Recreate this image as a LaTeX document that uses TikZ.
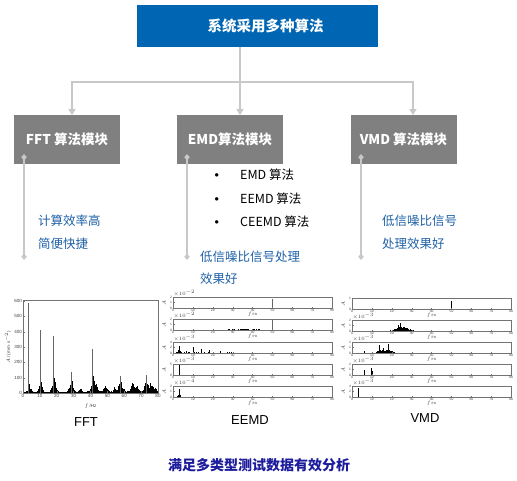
\documentclass[tikz,border=0pt]{standalone}
\usepackage{fontspec}
\setmainfont{Liberation Sans}
\newfontfamily\cjk{Noto Sans CJK SC}
\usetikzlibrary{arrows.meta}
\definecolor{topblue}{HTML}{0066B3}
\definecolor{boxgray}{HTML}{808080}
\definecolor{linegray}{HTML}{C8C8C8}
\definecolor{txtblue}{HTML}{2062A8}
\definecolor{navy}{HTML}{1C1C9C}
\newcommand\noisebars[4]{\foreach \f in {#1,#2,...,#3}{\pgfmathsetmacro\h{rnd*#4}\draw[spec] (\f,0)--(\f,\h);}}
\newcommand\bumpbars[6]{\foreach \f in {#1,#2,...,#3}{\pgfmathsetmacro\h{(0.35+0.65*rnd)*#6*exp(-((\f-#4)/#5)^2)}\draw[spec] (\f,0)--(\f,\h);}}
\newcommand\spanel[5]{%
  \begin{scope}[shift={(#1,#2)}, x=1.99pt, y=11pt]
    #5
    \draw[frame] (0,0) rectangle (80,1);
    \foreach \t in {0,10,...,80}{\draw[frame] (\t,0)--(\t,0.1); \node[tick,below,inner sep=0.6pt] at (\t,0) {\t};}
    \foreach \v/\l in {#3}{\draw[frame] (0,\v)--(0.8,\v); \node[tick,left,inner sep=0.8pt] at (0,\v) {\l};}
    \node[tick,anchor=south west,inner sep=0.3pt] at (0,1) {#4};
    \node[tick,rotate=90] at (-4.5,0.5) {$A$};
    \node[tick] at (40,0) [yshift=-6.3pt] {$f$\,/Hz};
  \end{scope}}
\begin{document}
\begin{tikzpicture}[x=1pt,y=-1pt,
  topbox/.style={fill=topblue, text=white, font=\cjk\bfseries\fontsize{14.5}{16}\selectfont, minimum width=241pt, minimum height=42pt, inner sep=0},
  modbox/.style={fill=boxgray, text=white, font=\cjk\bfseries\fontsize{13.5}{15}\selectfont, minimum width=106pt, minimum height=49pt, inner sep=0},
  conn/.style={draw=linegray, line width=1.3pt},
  arr/.style={conn, -{Triangle[width=7pt,length=6pt]}},
  stem/.style={draw=linegray, line width=1.5pt, {Diamond[width=5.5pt,length=6.5pt]}-{Diamond[width=5.5pt,length=6.5pt]}},
  note/.style={text=txtblue, font=\cjk\fontsize{12.5}{14}\selectfont, anchor=west, inner sep=0},
  item/.style={font=\cjk\fontsize{12.5}{14}\selectfont, anchor=west, inner sep=0},
  captxt/.style={font=\fontsize{13}{15}\selectfont, inner sep=0},
  tick/.style={font=\fontsize{3.3}{3.6}\selectfont, text=black!75},
  frame/.style={draw=black!55, line width=0.3pt},
  spec/.style={line width=0.45pt, black},
  peak/.style={line width=0.5pt, black!60},
]
\useasboundingbox (0,0) rectangle (517,480);
\fill[white] (0,0) rectangle (517,480);

% ---- top and module boxes
\node[topbox] (top) at (257.5,26) {\hspace*{16pt}系统采用多种算法};
\node[modbox] (fft) at (67,139.5) {FFT 算法模块};
\node[modbox] (emd) at (230,139.5) {EMD算法模块};
\node[modbox] (vmd) at (403.5,139.5) {VMD 算法模块};

\coordinate (split) at (240,82);
\coordinate (fftin) at (72,115);
\coordinate (emdin) at (240,115);
\coordinate (vmdin) at (413,115);
\draw[conn] (top.south -| split) -- (split);
\draw[arr] (split) -| (fftin);
\draw[arr] (split) -- (emdin);
\draw[arr] (split) -| (vmdin);

% ---- stems
\coordinate (fa) at (24,154); \coordinate (fb) at (24,260);
\coordinate (ea) at (187,154); \coordinate (eb) at (187,260);
\coordinate (va) at (361,154); \coordinate (vb) at (361,260);
\draw[stem] (fa) -- (fb);
\draw[stem] (ea) -- (eb);
\draw[stem] (va) -- (vb);

% ---- texts
\node[note] (f1) at (38,221) {计算效率高};
\node[note] (f2) at (38,244) {简便快捷};
\node[item] (b1) at (214.5,175) {\makebox[25.5pt][l]{\normalfont\textbullet}EMD 算法};
\node[item] (b2) at (214.5,198.5) {\makebox[25.5pt][l]{\normalfont\textbullet}EEMD 算法};
\node[item] (b3) at (214.5,222) {\makebox[25.5pt][l]{\normalfont\textbullet}CEEMD 算法};
\node[note] (e1) at (200,257) {低信噪比信号处理};
\node[note] (e2) at (200,279) {效果好};
\node[note] (v1) at (382,221) {低信噪比信号};
\node[note] (v2) at (382,244) {处理效果好};

% ---- FFT spectrum
\pgfmathsetseed{7}
\begin{scope}[shift={(23,393)}, x=1.6875pt, y=0.1533pt]
  \foreach \f in {0.2,0.4,...,79.8}{%
    \pgfmathsetmacro\h{(0.3+0.7*rnd)*(6+110*exp(-abs(\f-3.6)/0.6)+120*exp(-abs(\f-10.3)/0.7)+140*exp(-abs(\f-18.3)/0.9)+120*exp(-abs(\f-28.6)/1.0)+35*exp(-abs(\f-34)/0.6)+130*exp(-abs(\f-41.3)/1.0)+40*exp(-abs(\f-43.5)/1.0)+65*exp(-abs(\f-49)/1.0)+30*exp(-abs(\f-54)/0.6)+100*exp(-abs(\f-57.5)/1.3)+70*exp(-abs(\f-65)/1.0)+40*exp(-abs(\f-67.5)/1.0)+100*exp(-abs(\f-73)/1.0)+55*exp(-abs(\f-75.5)/1.5)+30*exp(-abs(\f-78)/1.5))}
    \draw[line width=0.4pt] (\f,0)--(\f,\h);}
  \draw[peak] (3.2,0)--(3.2,590);
  \draw[peak] (10,0)--(10,410);
  \draw[peak] (18.2,0)--(18.2,375);
  \draw[peak] (28.5,0)--(28.5,135);
  \draw[peak] (41,0)--(41,285);
  \draw[peak] (57.5,0)--(57.5,110);
  \draw[peak] (73,0)--(73,120);
  \draw[frame] (0,0) rectangle (80,608);
  \foreach \t in {0,10,...,80}{\draw[frame] (\t,0)--(\t,10); \node[tick,below,inner sep=1pt,font=\fontsize{4.5}{5}\selectfont] at (\t,0) {\t};}
  \foreach \v in {0,100,...,600}{\draw[frame] (0,\v)--(1,\v); \node[tick,left,inner sep=1pt,font=\fontsize{4.5}{5}\selectfont] at (0,\v) {\v};}
  \node[tick,font=\fontsize{4.5}{5}\selectfont] at (40,0) [yshift=-13pt] {$f$\,/Hz};
  \node[tick,rotate=90,font=\fontsize{4.5}{5}\selectfont] at (-9,300) {$A$\,/\,(mm$\cdot$s$^{-2}$)};
\end{scope}
\node[captxt] (capfft) at (86,422) {FFT};

% ---- EEMD panels
\spanel{173}{308}{0/0,0.5/1,1/2}{$\times10^{-2}$}{%
  \noisebars{0.3}{0.8}{79.8}{0.025}\draw[peak] (50,0)--(50,0.85);}
\spanel{173}{330}{0/0,0.5/1,1/2}{$\times10^{-2}$}{%
  \noisebars{0.3}{0.8}{79.8}{0.02}\bumpbars{18}{18.4}{50}{36}{10}{0.09}\draw[peak] (50,0)--(50,0.95);}
\spanel{173}{353}{0/0,0.5/2,1/4}{$\times10^{-3}$}{%
  \noisebars{0.3}{0.7}{30}{0.06}\bumpbars{1}{1.2}{5}{3}{1}{0.3}%
  \draw[spec] (3.3,0)--(3.3,0.65) (10,0)--(10,0.55) (14,0)--(14,0.35) (18,0)--(18,0.3) (23.5,0)--(23.5,0.22) (6.5,0)--(6.5,0.2);}
\spanel{173}{375}{0/0,1/5}{$\times10^{-3}$}{%
  \noisebars{0.3}{0.8}{20}{0.03}\draw[spec] (3.3,0)--(3.3,0.98);}
\spanel{173}{397}{0/0,0.5/1,1/2}{$\times10^{-4}$}{%
  \bumpbars{1}{1.2}{5}{3}{0.7}{0.3}\draw[spec] (3.3,0)--(3.3,0.72);}
\node[captxt] (capeemd) at (250,420) {EEMD};

% ---- VMD panels
\spanel{352}{309}{0/0,1/1}{}{%
  \noisebars{0.3}{0.8}{79.8}{0.02}\draw[spec] (50,0)--(50,0.75);}
\spanel{352}{331}{0/0,0.5/1,1/2}{$\times10^{-3}$}{%
  \noisebars{0.3}{0.8}{40}{0.04}\bumpbars{18}{18.25}{38}{25}{4.5}{0.4}%
  \draw[spec] (23.2,0)--(23.2,0.55) (24,0)--(24,0.75) (27,0)--(27,0.25);}
\spanel{352}{353}{0/0,0.5/1,1/2}{$\times10^{-3}$}{%
  \noisebars{0.3}{0.8}{30}{0.04}\bumpbars{12}{12.2}{21}{16.5}{5}{0.3}%
  \draw[spec] (6,0)--(6,0.22) (13.8,0)--(13.8,0.7) (15.5,0)--(15.5,0.45) (18,0)--(18,0.78);}
\spanel{352}{375}{0/0,0.5/1,1/2}{$\times10^{-3}$}{%
  \noisebars{0.3}{0.8}{15}{0.03}\draw[spec] (6,0)--(6,0.45) (9.7,0)--(9.7,0.6) (10.3,0)--(10.3,0.4);}
\spanel{352}{397}{0/0,0.5/2,1/4}{$\times10^{-3}$}{%
  \noisebars{0.3}{0.8}{8}{0.03}\draw[spec] (3.2,0)--(3.2,0.85);}
\node[captxt] (capvmd) at (425,418) {VMD};

% ---- bottom line
\node[font=\cjk\bfseries\fontsize{14}{16}\selectfont, text=navy, inner sep=0] (bottom) at (259,465) {满足多类型测试数据有效分析};
\end{tikzpicture}
\end{document}
